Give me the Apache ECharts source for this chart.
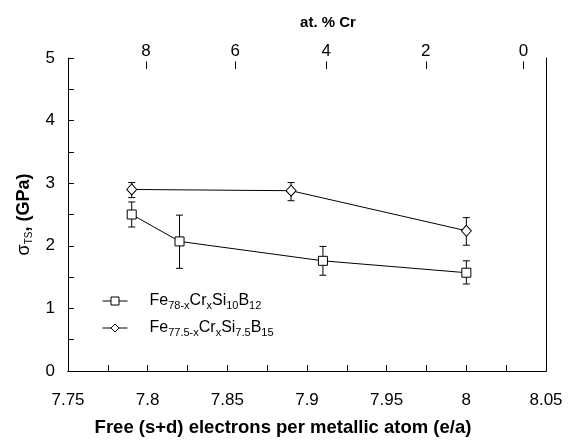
<!DOCTYPE html>
<html><head><meta charset="utf-8">
<script src="https://cdn.jsdelivr.net/npm/echarts@6/dist/echarts.min.js"></script>
<style>html,body{margin:0;padding:0;background:#fff}#c{width:574px;height:442px}</style>
</head><body><div id="c"></div>
<script>
// Data
var sqX = [7.79, 7.82, 7.91, 8.00];
var sqY = [2.50, 2.07, 1.76, 1.57];
var sqLow = [2.30, 1.64, 1.53, 1.39];
var sqHigh = [2.70, 2.49, 1.99, 1.76];
var diX = [7.79, 7.89, 8.00];
var diY = [2.90, 2.88, 2.24];
var diLow = [2.77, 2.72, 2.01];
var diHigh = [3.01, 3.01, 2.45];
// top axis: at.% Cr marks and the e/a value where each sits
var crLabels = [8, 6, 4, 2, 0];
var crEA = [7.799, 7.855, 7.912, 7.9745, 8.0358];
var sqName = 'Fe78-xCrxSi10B12';
var diName = 'Fe77.5-xCrxSi7.5B15';

var FONT = 'Liberation Sans, Arial, sans-serif';
var YMAX = 5;
function pts(xs, ys){ return xs.map(function(x,i){ return [x, ys[i]]; }); }
function errData(xs, lo, hi){ return xs.map(function(x,i){ return [x, lo[i], hi[i]]; }); }
function errRender(params, api){
  var x = api.value(0);
  var p1 = api.coord([x, api.value(1)]);
  var p2 = api.coord([x, api.value(2)]);
  var w = 3.5;
  var st = {stroke:'#000', lineWidth:1};
  return {type:'group', children:[
    {type:'line', shape:{x1:p1[0], y1:p1[1], x2:p2[0], y2:p2[1]}, style:st},
    {type:'line', shape:{x1:p1[0]-w, y1:p1[1], x2:p1[0]+w, y2:p1[1]}, style:st},
    {type:'line', shape:{x1:p2[0]-w, y1:p2[1], x2:p2[0]+w, y2:p2[1]}, style:st}
  ]};
}
function topTickRender(params, api){
  var p = api.coord([api.value(0), YMAX]);
  var x = Math.round(p[0]) + 0.5;
  return {type:'line', shape:{x1:x, y1:p[1]+3.5, x2:x, y2:p[1]+11}, style:{stroke:'#000', lineWidth:1}};
}
function isMult(v, step){ var r = v/step; return Math.abs(r - Math.round(r)) < 1e-6; }
var legendText = {};
legendText[sqName] = '{g|}Fe{s|78-x}Cr{s|x}Si{s|10}B{s|12}';
legendText[diName] = '{g|}Fe{s|77.5-x}Cr{s|x}Si{s|7.5}B{s|15}';

var chart = echarts.init(document.getElementById('c'), null, {renderer:'canvas'});
chart.setOption({
  animation:false,
  backgroundColor:'#fff',
  textStyle:{fontFamily:FONT},
  grid:{left:68, right:28, top:58, bottom:67, containLabel:false},
  legend:{
    orient:'vertical', left:97, top:286, padding:5,
    itemWidth:25, itemHeight:10, itemGap:7,
    data:[sqName, diName],
    lineStyle:{width:1, color:'#000'},
    itemStyle:{color:'#fff', borderColor:'#000', borderWidth:1},
    formatter:function(n){ return legendText[n]; },
    textStyle:{fontFamily:FONT, fontSize:16, color:'#000', lineHeight:20,
      rich:{
        g:{width:17},
        s:{fontSize:11, fontFamily:FONT, color:'#000', verticalAlign:'bottom', lineHeight:12}
      }}
  },
  xAxis:[{
    type:'value', position:'bottom', min:7.75, max:8.05, interval:0.025,
    axisLine:{lineStyle:{color:'#000', width:1}},
    axisTick:{inside:true, length:6, lineStyle:{color:'#000'}},
    splitLine:{show:false},
    axisLabel:{color:'#000', fontSize:17, margin:21, fontFamily:FONT, showMinLabel:true, showMaxLabel:true,
      formatter:function(v){ return isMult(v, 0.05) ? String(+v.toFixed(3)) : ''; }},
    name:'Free (s+d) electrons per metallic atom (e/a)',
    nameLocation:'middle', nameGap:47,
    nameTextStyle:{color:'#000', fontSize:18.5, fontWeight:'bold', fontFamily:FONT, padding:[0,48,0,0]}
  },{
    type:'value', position:'top', min:7.75, max:8.05,
    axisLine:{lineStyle:{color:'#000', width:1}},
    axisTick:{show:false},
    splitLine:{show:false},
    axisLabel:{color:'#000', fontSize:17, margin:-2, fontFamily:FONT, customValues:crEA,
      formatter:function(v){
        var best=0, d=1e9;
        for (var i=0;i<crEA.length;i++){ var dd=Math.abs(crEA[i]-v); if(dd<d){d=dd;best=i;} }
        return String(crLabels[best]);
      }},
    name:'at. % Cr', nameLocation:'middle', nameGap:28,
    nameTextStyle:{color:'#000', fontSize:15, fontWeight:'bold', fontFamily:FONT, padding:[0,0,0,42]}
  }],
  yAxis:[{
    type:'value', position:'left', min:0, max:YMAX, interval:0.5,
    axisLine:{show:true, lineStyle:{color:'#000', width:1}},
    axisTick:{inside:true, length:6, lineStyle:{color:'#000'}},
    splitLine:{show:false},
    axisLabel:{color:'#000', fontSize:17, margin:13, fontFamily:FONT, padding:[6,0,0,0],
      formatter:function(v){ return isMult(v, 1) ? String(Math.round(v)) : ''; }},
    name:'{a|σ}{s|TS}{b|, (GPa)}', nameLocation:'middle', nameGap:32, nameRotate:90,
    nameTextStyle:{color:'#000', fontFamily:FONT, lineHeight:22,
      rich:{
        a:{fontSize:18, fontFamily:FONT, color:'#000'},
        s:{fontSize:10, fontFamily:FONT, color:'#000', verticalAlign:'bottom', lineHeight:12},
        b:{fontSize:18, fontWeight:'bold', fontFamily:FONT, color:'#000'}
      }}
  },{
    type:'value', position:'right', min:0, max:YMAX,
    axisLine:{show:true, lineStyle:{color:'#000', width:1}},
    axisTick:{show:false}, axisLabel:{show:false}, splitLine:{show:false}
  }],
  series:[
    {type:'custom', xAxisIndex:1, yAxisIndex:0, renderItem:topTickRender, data:crEA.map(function(v){return [v];}), z:2, silent:true},
    {type:'custom', xAxisIndex:0, yAxisIndex:0, renderItem:errRender, data:errData(sqX, sqLow, sqHigh), z:1, silent:true},
    {type:'custom', xAxisIndex:0, yAxisIndex:0, renderItem:errRender, data:errData(diX, diLow, diHigh), z:1, silent:true},
    {name:sqName, type:'line', xAxisIndex:0, yAxisIndex:0, data:pts(sqX, sqY),
     symbol:'rect', symbolSize:9, showAllSymbol:true, z:3,
     lineStyle:{color:'#000', width:1},
     itemStyle:{color:'#fff', borderColor:'#000', borderWidth:1}},
    {name:diName, type:'line', xAxisIndex:0, yAxisIndex:0, data:pts(diX, diY),
     symbol:'diamond', symbolSize:[10,11], showAllSymbol:true, z:3,
     lineStyle:{color:'#000', width:1},
     itemStyle:{color:'#fff', borderColor:'#000', borderWidth:1}}
  ]
});
</script></body></html>
